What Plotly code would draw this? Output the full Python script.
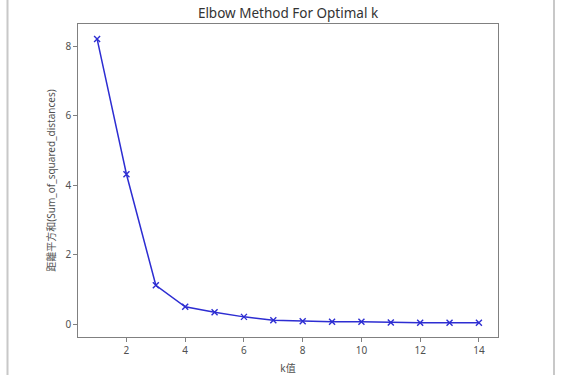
import plotly.graph_objects as go

k_values = list(range(1, 15))
sum_sq = [8.22, 4.32, 1.12, 0.50, 0.34, 0.21, 0.115, 0.087, 0.07, 0.07, 0.045, 0.04, 0.04, 0.04]
x_ticks = [2, 4, 6, 8, 10, 12, 14]
y_ticks = [0, 2, 4, 6, 8]

title_text = "Elbow Method For Optimal k"
x_title = "k值"
y_title = "距離平方和(Sum_of_squared_distances)"

FONT = "Noto Sans, Noto Sans CJK TC, sans-serif"
W, H = 563, 375
L, R, T, B = 78, 498, 24, 337

fig = go.Figure()
fig.add_trace(go.Scatter(
    x=k_values, y=sum_sq, mode="lines+markers",
    line=dict(color="rgb(45,45,210)", width=1.5),
    marker=dict(symbol="x-thin", size=6, line=dict(color="rgb(45,45,210)", width=1.4)),
    showlegend=False,
))

axis_common = dict(
    showgrid=False, zeroline=False, showline=True, linecolor="#808080", linewidth=1.3,
    mirror=True, ticks="outside", ticklen=3.5, tickwidth=1, tickcolor="#808080",
    tickfont=dict(family=FONT, size=10, color="#505050"), automargin=False,
)

fig.update_layout(
    width=W, height=H,
    margin=dict(l=L, r=W - R, t=T, b=H - B),
    paper_bgcolor="white", plot_bgcolor="white",
    title=dict(text=title_text, x=(L + R) / 2 / W, xanchor="center",
               y=1 - 13 / H, yanchor="middle", yref="container",
               font=dict(family=FONT, size=13.5, color="#333333")),
    xaxis=dict(range=[0.35, 14.65], tickvals=x_ticks, **axis_common,
               title=dict(text=x_title, standoff=14,
                          font=dict(family=FONT, size=10, color="#505050"))),
    yaxis=dict(range=[-0.37, 8.65], tickvals=y_ticks, **axis_common,
               title=dict(text=y_title, standoff=8,
                          font=dict(family=FONT, size=10, color="#505050"))),
    shapes=[
        dict(type="line", xref="paper", yref="paper", x0=-(L - 7.5) / (R - L), x1=-(L - 7.5) / (R - L),
             y0=-1, y1=2, line=dict(color="#c8c8c8", width=2)),
        dict(type="line", xref="paper", yref="paper", x0=1 + (554 - R) / (R - L), x1=1 + (554 - R) / (R - L),
             y0=-1, y1=2, line=dict(color="#c8c8c8", width=2)),
    ],
)

fig.write_html("out.html")
